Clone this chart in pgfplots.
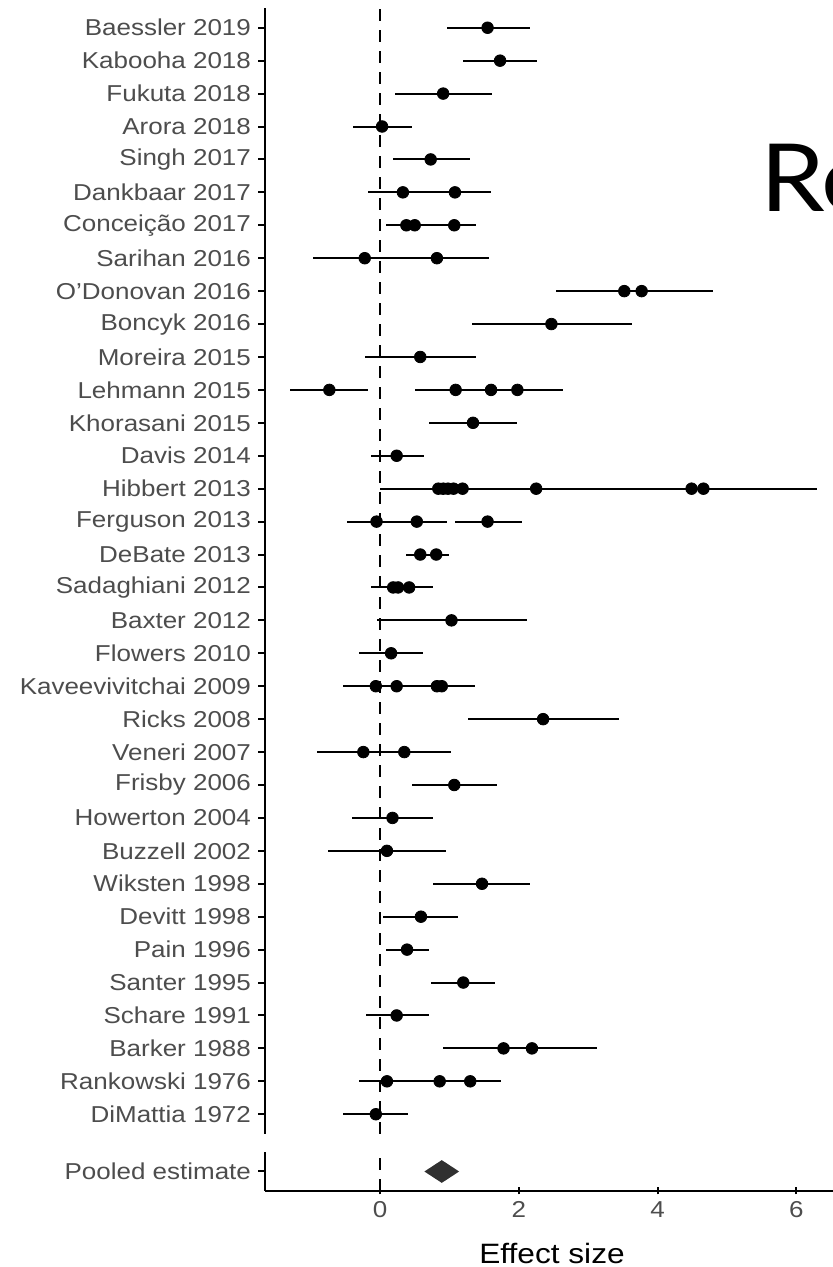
\documentclass[border=0pt]{standalone}
\usepackage{fontspec}
\setmainfont{Liberation Sans}[FakeStretch=1.13]
\newfontfamily\titlefont{Lato}[FakeStretch=1.1]
\usepackage{pgfplots}
\pgfplotsset{compat=1.18}
\usepackage{pgfplotstable}
\definecolor{txtgray}{HTML}{4D4D4D}
\definecolor{diam}{HTML}{303030}

% row: 34 = Baessler 2019 (top) ... 1 = DiMattia 1972 (bottom)
\pgfplotstableread{
row est lo hi
34 1.55 0.96 2.16
33 1.73 1.20 2.26
32 0.91 0.22 1.62
31 0.03 -0.39 0.46
30 0.73 0.19 1.29
29 0.33 -0.17 0.84
29 1.08 0.55 1.60
28 0.38 0.09 0.68
28 0.50 0.20 0.80
28 1.07 0.75 1.39
27 -0.22 -0.96 0.52
27 0.82 0.07 1.57
26 3.52 2.53 4.51
26 3.77 2.75 4.80
25 2.47 1.32 3.63
24 0.58 -0.22 1.38
23 -0.73 -1.29 -0.18
23 1.09 0.50 1.68
23 1.60 1.00 2.20
23 1.98 1.33 2.63
22 1.34 0.71 1.98
21 0.24 -0.13 0.63
20 0.84 0.00 1.70
20 0.91 0.10 1.72
20 0.98 0.15 1.80
20 1.06 0.25 1.87
20 1.19 0.30 2.08
20 2.25 1.60 2.88
20 4.49 2.70 6.08
20 4.66 3.00 6.29
19 -0.05 -0.47 0.40
19 0.53 0.10 0.96
19 1.55 1.08 2.04
18 0.58 0.38 0.78
18 0.81 0.62 0.99
17 0.19 -0.13 0.52
17 0.26 -0.05 0.58
17 0.42 0.08 0.76
16 1.03 -0.05 2.12
15 0.16 -0.30 0.62
14 -0.06 -0.54 0.42
14 0.24 -0.20 0.70
14 0.82 0.30 1.33
14 0.89 0.40 1.37
13 2.35 1.27 3.44
12 -0.24 -0.91 0.43
12 0.35 -0.32 1.02
11 1.07 0.46 1.69
10 0.18 -0.40 0.76
9 0.10 -0.75 0.95
8 1.47 0.77 2.16
7 0.59 0.05 1.12
6 0.39 0.09 0.71
5 1.20 0.74 1.65
4 0.24 -0.20 0.71
3 1.78 0.91 2.65
3 2.19 1.26 3.12
2 0.10 -0.30 0.50
2 0.86 0.40 1.32
2 1.30 0.86 1.74
1 -0.06 -0.53 0.41
}\effects

\pgfplotsset{
  forest/.style={
    scale only axis, width=287pt,
    xmin=-1.657, xmax=6.614,
    axis y line=left,
    axis line style={-, line width=1pt, black},
    every outer x axis line/.append style={-},
    every outer y axis line/.append style={-},
    x axis line style={-}, y axis line style={-},
    tick align=outside, major tick length=3.5pt,
    tick style={line width=1pt, black},
    /pgf/number format/assume math mode=true,
    yticklabel style={font=\fontsize{11.5}{13}\selectfont, text=txtgray},
    xticklabel style={font=\fontsize{11.5}{13}\selectfont, text=txtgray},
  },
  zeroline/.style={black, line width=1.1pt, dash pattern=on 6pt off 4.5pt},
}

\begin{document}
\begin{tikzpicture}
\begin{axis}[forest,
  at={(132.5pt,66.5pt)}, anchor=south west, height=563pt,
  ymin=0.4, ymax=34.6,
  axis x line=none,
  ytick={1,...,34},
  yticklabels={DiMattia 1972, Rankowski 1976, Barker 1988, Schare 1991, Santer 1995, Pain 1996, Devitt 1998, Wiksten 1998, Buzzell 2002, Howerton 2004, Frisby 2006, Veneri 2007, Ricks 2008, Kaveevivitchai 2009, Flowers 2010, Baxter 2012, Sadaghiani 2012, DeBate 2013, Ferguson 2013, Hibbert 2013, Davis 2014, Khorasani 2015, Lehmann 2015, Moreira 2015, Boncyk 2016, O'Donovan 2016, Sarihan 2016, Conceição 2017, Dankbaar 2017, Singh 2017, Arora 2018, Fukuta 2018, Kabooha 2018, Baessler 2019},
]
\addplot[zeroline] coordinates {(0,0.4) (0,34.6)};
\addplot[only marks, mark=*, mark size=2.9pt, black, mark options={solid, line width=0.4pt},
  error bars/.cd, x dir=both, x explicit, error mark=none,
  error bar style={line width=1pt, black, solid}]
  table[x=est, y=row,
        x error plus expr=\thisrow{hi}-\thisrow{est},
        x error minus expr=\thisrow{est}-\thisrow{lo}] {\effects};
\end{axis}

\begin{axis}[forest,
  at={(132.5pt,38pt)}, anchor=south west, height=19.5pt,
  ymin=0.4, ymax=1.6,
  axis x line=bottom,
  x axis line style={-},
  xtick={0,2,4,6}, ytick={1}, yticklabels={Pooled estimate},
  xlabel={Effect size},
  xlabel style={font=\fontsize{14}{16}\selectfont, text=black,
    at={(axis description cs:0.5,0)}, anchor=base, yshift=-36pt},
]
\addplot[zeroline] coordinates {(0,0.4) (0,1.6)};
\addplot[fill=diam, draw=none] coordinates {(0.64,1) (0.89,1.35) (1.14,1) (0.89,0.65)} -- cycle;
\end{axis}

\node[anchor=base west, inner sep=0pt, font=\titlefont\fontsize{47}{50}\selectfont] at (380pt,527.5pt) {Re};

\pgfresetboundingbox
\useasboundingbox (0pt,0pt) rectangle (416pt,633.5pt);
\end{tikzpicture}
\end{document}
